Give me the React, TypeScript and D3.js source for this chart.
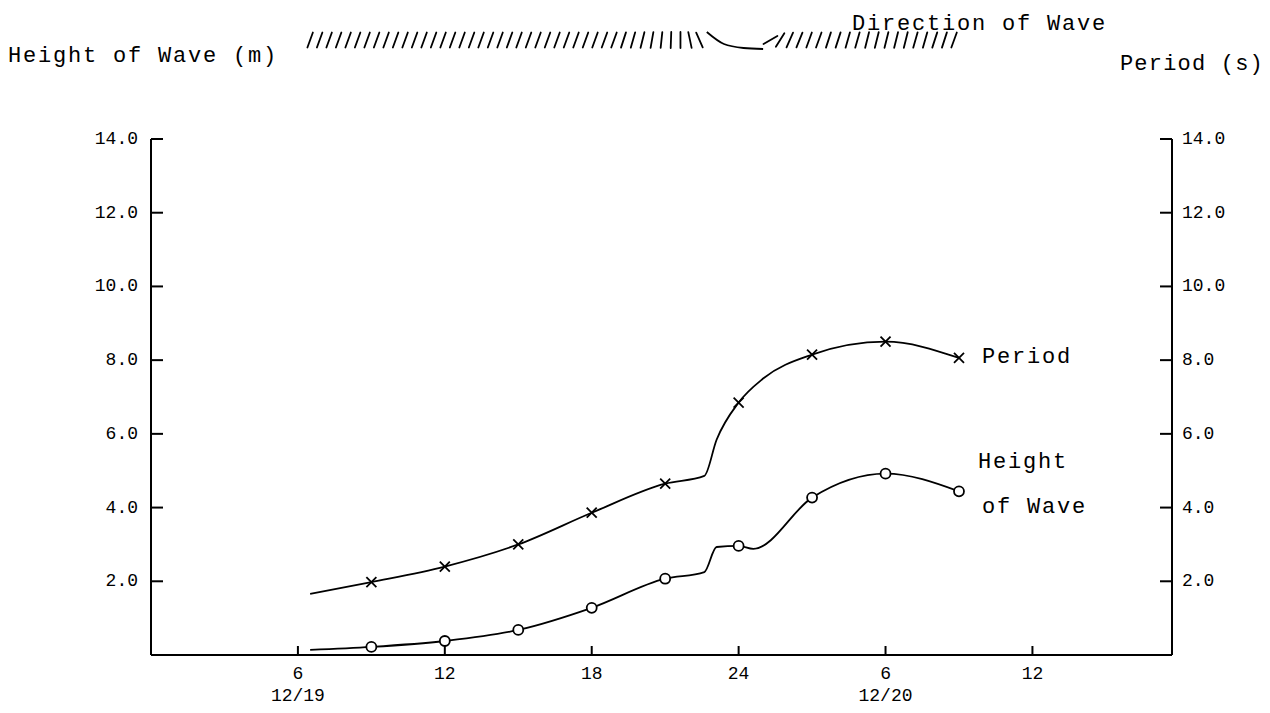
import React from 'react';
import * as d3 from 'd3';

// ---- data (hours counted from 12/19 00:00) ----
const periodHours = [6.5, 9, 12, 15, 18, 21, 22.6, 23.1, 24, 25, 27, 30, 33];
const periodValues = [1.66, 1.98, 2.4, 3.0, 3.86, 4.65, 4.86, 5.84, 6.85, 7.5, 8.15, 8.5, 8.06];
const periodMarkerHours = [9, 12, 15, 18, 21, 24, 27, 30, 33];

const heightHours = [6.5, 9, 12, 15, 18, 21, 22.6, 23.1, 24, 24.6, 27, 30, 33];
const heightValues = [0.14, 0.22, 0.38, 0.68, 1.28, 2.07, 2.25, 2.93, 2.96, 2.88, 4.27, 4.92, 4.44];
const heightMarkerHours = [9, 12, 15, 18, 21, 24, 27, 30, 33];

const xTickHours = [6, 12, 18, 24, 30, 36];
const xTickLabels = ['6', '12', '18', '24', '6', '12'];
const xDateLabels = ['12/19', '', '', '', '12/20', ''];

const yTickValues = [2, 4, 6, 8, 10, 12, 14];
const yTickLabels = ['2.0', '4.0', '6.0', '8.0', '10.0', '12.0', '14.0'];

// wave direction strokes (lean angle in degrees, + = "/")
const dirGroup1Angles = [
  20, 20, 20, 20, 20, 20, 20, 20, 20, 20, 20, 20, 20, 20, 20, 20, 20, 20, 20, 20,
  20, 20, 20, 20, 20, 20, 20, 20, 20, 20, 20, 20, 20, 18, 16, 14, 10, 6, 2, 0, -12, -24,
];
const dirGroup1Range = [6.5, 22.4];
const dirTurnHours = [22.7, 23.4, 24.2, 25.0];
const dirTurnOffsets = [-8, 4, 8, 9];
const dirGroup2Angles = [
  60, 32, 24, 22, 20, 20, 18, 18, 16, 16, 14, 14, 14, 14, 14, 16, 16, 18, 18, 20,
];
const dirGroup2Range = [25.3, 32.8];

const FONT = '"Liberation Mono", "DejaVu Sans Mono", monospace';

export default function App() {
  const W = 1270;
  const H = 713;
  const x = d3.scaleLinear().domain([0, 41.7]).range([151, 1172]);
  const y = d3.scaleLinear().domain([0, 14]).range([655, 139]);
  const left = x.range()[0];
  const right = x.range()[1];
  const bottom = y(0);

  const line = d3
    .line<[number, number]>()
    .x((d) => x(d[0]))
    .y((d) => y(d[1]))
    .curve(d3.curveMonotoneX);

  const periodPts: [number, number][] = periodHours.map((h, i) => [h, periodValues[i]]);
  const heightPts: [number, number][] = heightHours.map((h, i) => [h, heightValues[i]]);
  const periodMarks = periodPts.filter((p) => periodMarkerHours.includes(p[0]));
  const heightMarks = heightPts.filter((p) => heightMarkerHours.includes(p[0]));

  const hatchY = 40;
  const hatchLen = 16;
  const strokes = (angles: number[], range: number[]) => {
    const pos = d3.scaleLinear().domain([0, angles.length - 1]).range(range);
    return angles.map((a, i) => {
      const cx = x(pos(i));
      const r = (a * Math.PI) / 180;
      const dx = (Math.sin(r) * hatchLen) / 2;
      const dy = (Math.cos(r) * hatchLen) / 2;
      return { x1: cx - dx, y1: hatchY + dy, x2: cx + dx, y2: hatchY - dy };
    });
  };
  const s1 = strokes(dirGroup1Angles, dirGroup1Range);
  const s2 = strokes(dirGroup2Angles, dirGroup2Range);
  const turnLine = d3
    .line<number>()
    .x((h) => x(h))
    .y((_, i) => hatchY + dirTurnOffsets[i])
    .curve(d3.curveMonotoneX);

  const labelStyle = { fontFamily: FONT, fontSize: 18, fill: '#000' } as const;
  const bigStyle = { fontFamily: FONT, fontSize: 22, letterSpacing: 1.8, fill: '#000' } as const;

  return (
    <div style={{ position: 'absolute', left: 0, top: 0 }}>
      <svg width={W} height={H} style={{ display: 'block', background: '#fff' }}>
        {/* titles */}
        <text x={852} y={30} {...bigStyle}>Direction of Wave</text>
        <text x={8} y={62} {...bigStyle}>Height of Wave (m)</text>
        <text x={1264} y={70} textAnchor="end" {...bigStyle} letterSpacing={1.2}>Period (s)</text>

        {/* direction hatches */}
        <g stroke="#000" strokeWidth={1.8} strokeLinecap="round">
          {s1.map((s, i) => (
            <line key={'a' + i} {...s} />
          ))}
          {s2.map((s, i) => (
            <line key={'b' + i} {...s} />
          ))}
        </g>
        <path d={turnLine(dirTurnHours) || ''} fill="none" stroke="#000" strokeWidth={1.8} />

        {/* axes */}
        <g stroke="#000" strokeWidth={2} fill="none">
          <line x1={left} y1={y(14)} x2={left} y2={bottom} />
          <line x1={right} y1={y(14)} x2={right} y2={bottom} />
          <line x1={left} y1={bottom} x2={right} y2={bottom} />
          {yTickValues.map((v) => (
            <g key={'yt' + v}>
              <line x1={left} y1={y(v)} x2={left + 12} y2={y(v)} />
              <line x1={right - 12} y1={y(v)} x2={right} y2={y(v)} />
            </g>
          ))}
          {xTickHours.map((h) => (
            <line key={'xt' + h} x1={x(h)} y1={bottom} x2={x(h)} y2={bottom - 9} />
          ))}
        </g>

        {yTickValues.map((v, i) => (
          <g key={'yl' + v}>
            <text x={138} y={y(v)} textAnchor="end" dominantBaseline="central" {...labelStyle}>
              {yTickLabels[i]}
            </text>
            <text x={1182} y={y(v)} textAnchor="start" dominantBaseline="central" {...labelStyle}>
              {yTickLabels[i]}
            </text>
          </g>
        ))}
        {xTickHours.map((h, i) => (
          <g key={'xl' + h}>
            <text x={x(h)} y={674} textAnchor="middle" dominantBaseline="central" {...labelStyle}>
              {xTickLabels[i]}
            </text>
            {xDateLabels[i] && (
              <text x={x(h)} y={696} textAnchor="middle" dominantBaseline="central" {...labelStyle}>
                {xDateLabels[i]}
              </text>
            )}
          </g>
        ))}

        {/* series */}
        <path d={line(periodPts) || ''} fill="none" stroke="#000" strokeWidth={1.8} />
        <path d={line(heightPts) || ''} fill="none" stroke="#000" strokeWidth={1.8} />
        <g stroke="#000" strokeWidth={1.8}>
          {periodMarks.map((p, i) => {
            const cx = x(p[0]);
            const cy = y(p[1]);
            return (
              <g key={'pm' + i}>
                <line x1={cx - 5} y1={cy - 5} x2={cx + 5} y2={cy + 5} />
                <line x1={cx - 5} y1={cy + 5} x2={cx + 5} y2={cy - 5} />
              </g>
            );
          })}
          {heightMarks.map((p, i) => (
            <circle key={'hm' + i} cx={x(p[0])} cy={y(p[1])} r={5} fill="#fff" />
          ))}
        </g>

        {/* series labels */}
        <text x={982} y={y(8.06)} dominantBaseline="central" {...bigStyle}>Period</text>
        <text x={978} y={462} dominantBaseline="central" {...bigStyle}>Height</text>
        <text x={982} y={507} dominantBaseline="central" {...bigStyle}>of Wave</text>
      </svg>
    </div>
  );
}
